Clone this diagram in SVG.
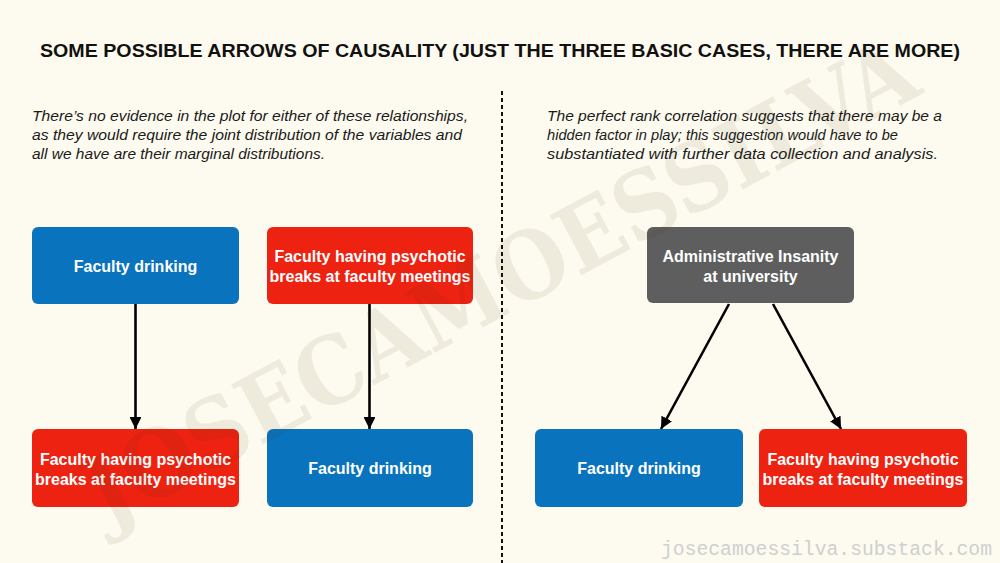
<svg xmlns="http://www.w3.org/2000/svg" width="1000" height="563" viewBox="0 0 1000 563">
  <style>
    .title { font-family: "Liberation Sans", Arial, sans-serif; font-weight: bold; font-size: 18.5px; fill: #111; }
    .para { font-family: "Liberation Sans", Arial, sans-serif; font-style: italic; font-size: 15.5px; fill: #1a1a1a; }
    .lbl { font-family: "Liberation Sans", Arial, sans-serif; font-weight: bold; font-size: 16px; fill: #ffffff; text-anchor: middle; }
    .blue { fill: #0A73BD; }
    .red { fill: #EE2211; }
    .gray { fill: #5E5E5E; }
    .conn { stroke: #000; stroke-width: 2.6; fill: none; marker-end: url(#arrow); }
    .url { font-family: "Liberation Mono", "Courier New", monospace; font-size: 19.7px; fill: #cfcfcf; }
    .wm { font-family: "DejaVu Serif Condensed", "DejaVu Serif", serif; font-weight: bold; font-size: 93px; fill: #42330e; fill-opacity: 0.08; text-anchor: middle; }
  </style>
  <defs>
    <marker id="arrow" viewBox="0 0 10 10" refX="10" refY="5" markerWidth="4.6" markerHeight="4.6" markerUnits="strokeWidth" orient="auto">
      <path d="M0,0 L10,5 L0,10 Z" fill="#000"/>
    </marker>
  </defs>
  <rect x="0" y="0" width="1000" height="563" fill="#FDFBEF"/>

  <text class="title" x="500" y="57" text-anchor="middle" textLength="920" lengthAdjust="spacingAndGlyphs">SOME POSSIBLE ARROWS OF CAUSALITY (JUST THE THREE BASIC CASES, THERE ARE MORE)</text>

  <g id="para-left">
    <text class="para" x="32" y="121" textLength="436" lengthAdjust="spacingAndGlyphs">There’s no evidence in the plot for either of these relationships,</text>
    <text class="para" x="32" y="140" textLength="430" lengthAdjust="spacingAndGlyphs">as they would require the joint distribution of the variables and</text>
    <text class="para" x="32" y="159" textLength="293" lengthAdjust="spacingAndGlyphs">all we have are their marginal distributions.</text>
  </g>
  <g id="para-right">
    <text class="para" x="547" y="121" textLength="395" lengthAdjust="spacingAndGlyphs">The perfect rank correlation suggests that there may be a</text>
    <text class="para" x="547" y="140" textLength="351" lengthAdjust="spacingAndGlyphs">hidden factor in play; this suggestion would have to be</text>
    <text class="para" x="547" y="159" textLength="391" lengthAdjust="spacingAndGlyphs">substantiated with further data collection and analysis.</text>
  </g>

  <line id="divider" x1="502" y1="91" x2="502" y2="563" stroke="#111" stroke-width="2" stroke-dasharray="4 3"/>

  <g id="connectors">
    <line class="conn" x1="135.5" y1="304" x2="135.5" y2="429"/>
    <line class="conn" x1="369.5" y1="304" x2="369.5" y2="429"/>
    <line class="conn" x1="729" y1="304" x2="661" y2="429"/>
    <line class="conn" x1="773" y1="304" x2="841" y2="429"/>
  </g>

  <g id="node-left-top">
    <rect class="blue" x="32" y="227" width="207" height="77" rx="6"/>
    <text class="lbl" x="135.5" y="271.5">Faculty drinking</text>
  </g>
  <g id="node-left-bottom">
    <rect class="red" x="32" y="429" width="207" height="78" rx="6"/>
    <text class="lbl" x="135.5" y="464.5">Faculty having psychotic</text>
    <text class="lbl" x="135.5" y="484.5">breaks at faculty meetings</text>
  </g>
  <g id="node-mid-top">
    <rect class="red" x="267" y="227" width="206" height="77" rx="6"/>
    <text class="lbl" x="370" y="262">Faculty having psychotic</text>
    <text class="lbl" x="370" y="282">breaks at faculty meetings</text>
  </g>
  <g id="node-mid-bottom">
    <rect class="blue" x="267" y="429" width="206" height="78" rx="6"/>
    <text class="lbl" x="370" y="474">Faculty drinking</text>
  </g>
  <g id="node-admin">
    <rect class="gray" x="647" y="227" width="207" height="76" rx="6"/>
    <text class="lbl" x="750.5" y="262">Administrative Insanity</text>
    <text class="lbl" x="750.5" y="282">at university</text>
  </g>
  <g id="node-right-drinking">
    <rect class="blue" x="535" y="429" width="208" height="78" rx="6"/>
    <text class="lbl" x="639" y="474">Faculty drinking</text>
  </g>
  <g id="node-right-psychotic">
    <rect class="red" x="759" y="429" width="208" height="78" rx="6"/>
    <text class="lbl" x="863" y="464.5">Faculty having psychotic</text>
    <text class="lbl" x="863" y="484.5">breaks at faculty meetings</text>
  </g>

  <text class="url" x="661" y="555" textLength="331" lengthAdjust="spacingAndGlyphs">josecamoessilva.substack.com</text>

  <text class="wm" transform="translate(500,281) rotate(-28)" x="0" y="33">JOSECAMOESSILVA</text>
</svg>
